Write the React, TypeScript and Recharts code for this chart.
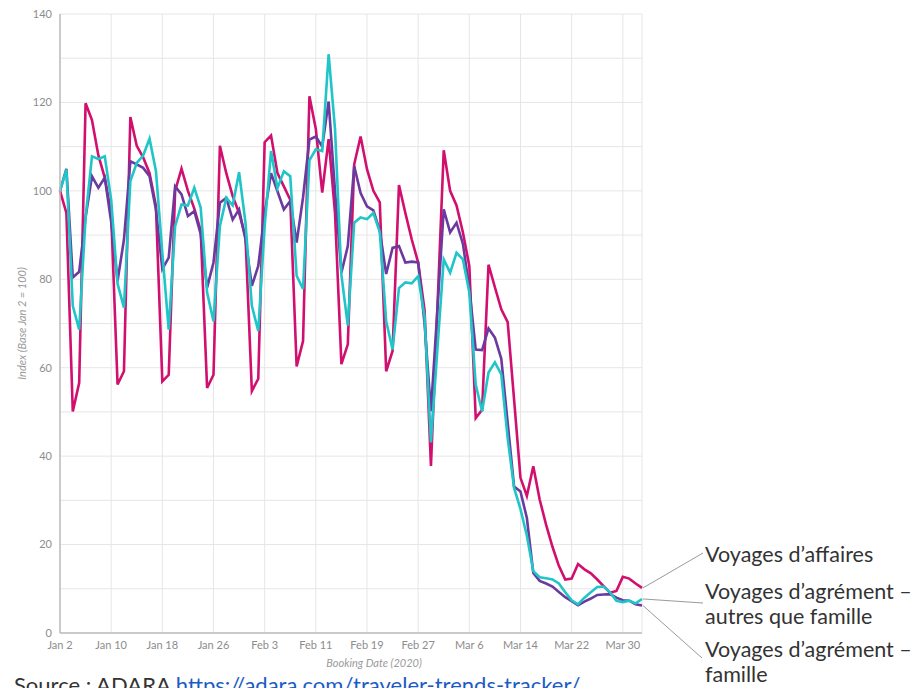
import React from "react";
import { LineChart, Line, XAxis, YAxis, CartesianGrid } from "recharts";

// x axis: day index from Jan 2 2020, ticks every 8 days
const tickDays = [0, 8, 16, 24, 32, 40, 48, 56, 64, 72, 80, 88];
const tickLabels = ["Jan 2", "Jan 10", "Jan 18", "Jan 26", "Feb 3", "Feb 11", "Feb 19", "Feb 27", "Mar 6", "Mar 14", "Mar 22", "Mar 30"];
const yTicks = [0, 10, 20, 30, 40, 50, 60, 70, 80, 90, 100, 110, 120, 130, 140];

// index values, Jan 2 .. Apr 2
const business = [
  100, 95, 50.1, 56.6, 119.8, 116, 108, 103, 95, 56.2,
  59.2, 116.7, 110.2, 107.6, 104, 96.6, 56.9, 58.4, 100, 105,
  100, 96, 91, 55.4, 58.4, 110.2, 104, 98.8, 95, 89.7,
  54.7, 57.5, 111, 112.5, 104, 101, 98, 60.3, 66, 121.4,
  114, 99.6, 111.7, 95, 60.8, 65.3, 106, 112.3, 104.9, 100,
  97.4, 59.2, 63.8, 101.3, 95, 89, 83.8, 73, 37.8, 73,
  109.2, 100, 96.7, 90.6, 83, 48.6, 50.5, 83.3, 78.2, 73.2,
  70.3, 52.8, 35.1, 31, 37.7, 30.2, 24.5, 19.5, 15.2, 12.1,
  12.3, 15.6, 14.4, 13.5, 12.1, 10.6, 9.1, 9.5, 12.7, 12.3,
  11.2, 10.2,
];

const leisureOther = [
  100, 104.8, 74, 68.6, 94, 107.8, 107.2, 107.8, 98, 79,
  73.6, 102.2, 106.3, 108, 111.8, 104.5, 86, 68.6, 92, 96.9,
  96.7, 100.7, 96.2, 77, 70.5, 92, 98.4, 96.7, 104.2, 92.8,
  74, 68.3, 92, 109, 100.6, 104.4, 103.3, 80.8, 77.8, 106.9,
  109.4, 109, 130.9, 114, 81, 69.5, 92.8, 94, 93.6, 95,
  90.7, 70.5, 64.1, 78, 79.3, 79.1, 80.7, 71.5, 43.1, 64,
  84.5, 81.5, 86, 84.5, 77, 56.2, 50.1, 58.9, 61.2, 58.5,
  44, 32.8, 28, 22, 14, 12.6, 12.4, 12.1, 11.2, 9.2,
  7.4, 6.5, 8, 9.2, 10.4, 10.5, 9.2, 7.3, 7, 7.3,
  6.7, 7.7,
];

const leisureFamily = [
  100, 105, 80.4, 81.7, 94, 103.3, 100.7, 103, 93, 79.6,
  89, 106.7, 106, 105.2, 103.3, 95.8, 82.3, 84.9, 101, 99.2,
  94.3, 95.4, 90.2, 78.1, 83.8, 97.3, 98.4, 93.5, 95.8, 89,
  78.5, 83, 95, 104, 99.9, 95.8, 97.7, 88.3, 98.5, 111.6,
  112.3, 110, 120.2, 100, 81.5, 87.5, 105.6, 99.5, 96.5, 95.6,
  91, 81.2, 87.1, 87.5, 83.8, 84, 83.8, 70, 50.2, 73,
  95.8, 90.6, 92.8, 88, 78, 64.1, 64, 68.9, 66.8, 62,
  47.5, 33.1, 32, 26, 13.6, 11.8, 11.2, 10.5, 9.3, 8.1,
  7.2, 6.3, 7.1, 7.8, 8.6, 8.7, 8.8, 8, 7.4, 7.3,
  6.5, 6.2,
];

const seriesLabels = {
  business: ["Voyages d’affaires"],
  other: ["Voyages d’agrément –", "autres que famille"],
  family: ["Voyages d’agrément –", "famille"],
};

const data = business.map((b, i) => ({
  day: i,
  business: b,
  other: leisureOther[i],
  family: leisureFamily[i],
}));

const last = data.length - 1;
const labelFont = { fontFamily: "Lato, 'Open Sans', sans-serif", fontSize: 21.5, fill: "#333" };

// draws the leader line + text at the last point of a series
const endLabel = (lines: string[], endX: number, endY: number, baseline: number) => (p: any) => {
  if (p.index !== last) return <g key={`d-${p.index}`} />;
  return (
    <g key="end-label">
      <line x1={p.cx + 1} y1={p.cy} x2={endX} y2={endY} stroke="#9a9a9a" strokeWidth={1} />
      {lines.map((t, k) => (
        <text key={k} x={697} y={baseline + k * 25} {...labelFont}>
          {t}
        </text>
      ))}
    </g>
  );
};

const tickStyle = { fontFamily: "Lato, sans-serif", fontSize: 11, fill: "#8c8c8c" };

export default function App() {
  return (
    <div style={{ position: "relative", width: 913, height: 680, fontFamily: "Lato, sans-serif" }}>
      <LineChart
        width={913}
        height={680}
        data={data}
        margin={{ top: 6, right: 279, left: 12, bottom: 25 }}
      >
        <CartesianGrid stroke="#e6e6e6" strokeWidth={1} />
        <XAxis
          dataKey="day"
          type="number"
          domain={[0, 91]}
          ticks={tickDays}
          interval={0}
          tickFormatter={(v) => tickLabels[tickDays.indexOf(v)] ?? ""}
          tick={tickStyle}
          tickLine={false}
          axisLine={{ stroke: "#bdbdbd", strokeWidth: 1.5 }}
          height={30}
          label={{
            content: (props: any) => {
              const vb = props.viewBox;
              return (
                <text
                  x={vb.x + vb.width / 2 + 23}
                  y={vb.y + 34}
                  textAnchor="middle"
                  fontStyle="italic"
                  fontSize={11}
                  fill="#9a9a9a"
                  fontFamily="Lato, sans-serif"
                >
                  Booking Date (2020)
                </text>
              );
            },
          }}
        />
        <YAxis
          type="number"
          domain={[0, 140]}
          ticks={yTicks}
          interval={0}
          tickFormatter={(v) => (v % 20 === 0 ? String(v) : "")}
          tick={tickStyle}
          tickLine={false}
          axisLine={{ stroke: "#bdbdbd", strokeWidth: 1.5 }}
          width={40}
          label={{
            value: "Index (Base Jan 2 = 100)",
            angle: -90,
            position: "insideLeft",
            offset: 2,
            style: { textAnchor: "middle", fontStyle: "italic", fill: "#9a9a9a", fontSize: 11 },
          }}
        />
        <Line
          dataKey="business"
          stroke="#d10f6f"
          strokeWidth={2.6}
          isAnimationActive={false}
          activeDot={false}
          dot={endLabel(seriesLabels.business, 695, 545, 554)}
        />
        <Line
          dataKey="family"
          stroke="#6b3a9e"
          strokeWidth={2.6}
          isAnimationActive={false}
          activeDot={false}
          dot={endLabel(seriesLabels.family, 694, 650, 649)}
        />
        <Line
          dataKey="other"
          stroke="#20c5c8"
          strokeWidth={2.6}
          isAnimationActive={false}
          activeDot={false}
          dot={endLabel(seriesLabels.other, 695, 595, 590.5)}
        />
      </LineChart>
      <div
        style={{
          position: "absolute",
          top: 663,
          left: 6,
          fontFamily: "Lato, sans-serif",
          fontSize: 22,
          color: "#333",
          whiteSpace: "nowrap",
        }}
      >
        Source : ADARA{" "}
        <a href="https://adara.com/traveler-trends-tracker/" style={{ color: "#1a5cc4" }}>
          https://adara.com/traveler-trends-tracker/
        </a>
      </div>
    </div>
  );
}
